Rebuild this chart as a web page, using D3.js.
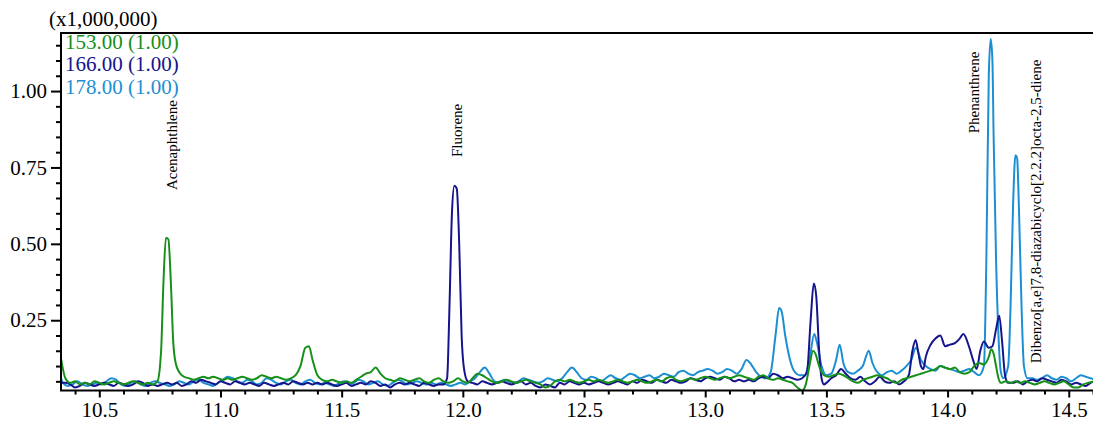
<!DOCTYPE html>
<html>
<head>
<meta charset="utf-8">
<script src="https://cdn.jsdelivr.net/npm/d3@7"></script>
<style>
  html, body { margin: 0; padding: 0; background: #fff; }
  svg { display: block; font-family: "Liberation Serif", "DejaVu Serif", serif; }
</style>
</head>
<body>
<div id="chromatogram"></div>
<script>
// ion chromatograms, [retention time (min), intensity (x1,000,000)]
const ion153 = [
  [10.342,0.125],[10.35,0.09],[10.36,0.06],[10.38,0.045],[10.40,0.05],[10.42,0.04],[10.44,0.045],[10.46,0.04],
  [10.48,0.05],[10.50,0.045],[10.52,0.04],[10.54,0.045],[10.56,0.05],[10.58,0.045],[10.60,0.04],[10.62,0.045],
  [10.64,0.05],[10.66,0.045],[10.68,0.04],[10.70,0.045],[10.72,0.04],[10.74,0.05],[10.755,0.15],[10.765,0.38],
  [10.775,0.52],[10.785,0.515],[10.795,0.38],[10.805,0.18],[10.815,0.11],[10.83,0.08],[10.85,0.065],[10.87,0.06],
  [10.89,0.055],[10.91,0.06],[10.93,0.065],[10.95,0.06],[10.97,0.065],[10.99,0.06],[11.01,0.055],[11.03,0.06],
  [11.05,0.055],[11.07,0.06],[11.09,0.065],[11.11,0.06],[11.13,0.055],[11.15,0.06],[11.17,0.07],[11.19,0.065],
  [11.21,0.06],[11.23,0.065],[11.25,0.06],[11.27,0.055],[11.29,0.06],[11.31,0.07],[11.33,0.1],[11.35,0.16],
  [11.365,0.165],[11.38,0.12],[11.40,0.07],[11.42,0.055],[11.44,0.05],[11.46,0.055],[11.48,0.05],[11.50,0.045],
  [11.52,0.05],[11.54,0.045],[11.56,0.055],[11.58,0.065],[11.60,0.075],[11.62,0.08],[11.64,0.095],[11.66,0.075],
  [11.68,0.06],[11.70,0.055],[11.72,0.05],[11.74,0.06],[11.76,0.055],[11.78,0.05],[11.80,0.055],[11.82,0.06],
  [11.84,0.05],[11.86,0.045],[11.88,0.055],[11.90,0.06],[11.92,0.05],[11.94,0.045],[11.96,0.05],[11.98,0.06],
  [12.00,0.05],[12.02,0.045],[12.04,0.06],[12.06,0.075],[12.08,0.07],[12.10,0.06],[12.12,0.05],[12.14,0.045],
  [12.16,0.05],[12.18,0.055],[12.20,0.05],[12.22,0.045],[12.24,0.05],[12.26,0.055],[12.28,0.05],[12.30,0.045],
  [12.32,0.04],[12.34,0.03],[12.36,0.035],[12.38,0.05],[12.40,0.055],[12.42,0.05],[12.44,0.055],[12.46,0.05],
  [12.48,0.045],[12.50,0.05],[12.52,0.055],[12.54,0.05],[12.56,0.055],[12.58,0.05],[12.60,0.045],[12.62,0.05],
  [12.64,0.055],[12.66,0.05],[12.68,0.045],[12.70,0.05],[12.72,0.055],[12.74,0.05],[12.76,0.045],[12.78,0.05],
  [12.80,0.055],[12.82,0.05],[12.84,0.06],[12.86,0.065],[12.88,0.055],[12.90,0.05],[12.92,0.055],[12.94,0.06],
  [12.96,0.055],[12.98,0.06],[13.00,0.065],[13.02,0.06],[13.04,0.055],[13.06,0.06],[13.08,0.065],[13.10,0.06],
  [13.12,0.065],[13.14,0.07],[13.16,0.065],[13.18,0.06],[13.20,0.055],[13.22,0.065],[13.24,0.07],[13.26,0.06],
  [13.28,0.055],[13.30,0.06],[13.32,0.055],[13.34,0.05],[13.36,0.045],[13.38,0.03],[13.40,0.02],[13.415,0.04],
  [13.43,0.1],[13.445,0.15],[13.455,0.14],[13.47,0.1],[13.49,0.07],[13.51,0.065],[13.53,0.07],[13.55,0.075],
  [13.57,0.07],[13.59,0.06],[13.61,0.05],[13.63,0.045],[13.65,0.055],[13.67,0.06],[13.69,0.065],[13.71,0.07],
  [13.73,0.065],[13.75,0.06],[13.77,0.05],[13.79,0.045],[13.81,0.055],[13.83,0.06],[13.85,0.065],[13.87,0.07],
  [13.89,0.075],[13.91,0.08],[13.93,0.085],[13.95,0.09],[13.97,0.1],[13.99,0.095],[14.01,0.09],[14.03,0.095],
  [14.05,0.08],[14.07,0.075],[14.09,0.08],[14.11,0.1],[14.13,0.11],[14.15,0.105],[14.17,0.13],[14.18,0.155],
  [14.19,0.14],[14.20,0.1],[14.21,0.06],[14.22,0.045],[14.24,0.05],[14.26,0.045],[14.28,0.05],[14.30,0.045],
  [14.32,0.05],[14.34,0.045],[14.36,0.04],[14.38,0.045],[14.40,0.05],[14.42,0.045],[14.44,0.04],[14.46,0.045],
  [14.48,0.05],[14.50,0.04],[14.52,0.03],[14.54,0.03],[14.56,0.04],[14.58,0.045],[14.61,0.05]
];

const ion166 = [
  [10.342,0.045],[10.36,0.045],[10.38,0.04],[10.40,0.03],[10.42,0.035],[10.44,0.045],[10.46,0.04],[10.48,0.035],
  [10.50,0.04],[10.52,0.045],[10.54,0.04],[10.56,0.035],[10.58,0.045],[10.60,0.04],[10.62,0.035],[10.64,0.04],
  [10.66,0.05],[10.68,0.045],[10.70,0.035],[10.72,0.04],[10.74,0.035],[10.76,0.04],[10.78,0.045],[10.80,0.04],
  [10.82,0.045],[10.84,0.035],[10.86,0.04],[10.88,0.05],[10.90,0.045],[10.92,0.055],[10.94,0.05],[10.96,0.045],
  [10.98,0.04],[11.00,0.05],[11.02,0.045],[11.04,0.04],[11.06,0.05],[11.08,0.045],[11.10,0.04],[11.12,0.045],
  [11.14,0.04],[11.16,0.035],[11.18,0.045],[11.20,0.04],[11.22,0.035],[11.24,0.04],[11.26,0.045],[11.28,0.04],
  [11.30,0.05],[11.32,0.045],[11.34,0.04],[11.36,0.045],[11.38,0.04],[11.40,0.045],[11.42,0.04],[11.44,0.045],
  [11.46,0.04],[11.48,0.035],[11.50,0.04],[11.52,0.045],[11.54,0.035],[11.56,0.04],[11.58,0.045],[11.60,0.04],
  [11.62,0.05],[11.64,0.045],[11.66,0.035],[11.68,0.04],[11.70,0.03],[11.72,0.04],[11.74,0.045],[11.76,0.04],
  [11.78,0.045],[11.80,0.04],[11.82,0.035],[11.84,0.045],[11.86,0.04],[11.88,0.035],[11.90,0.04],[11.92,0.04],
  [11.935,0.06],[11.945,0.3],[11.955,0.6],[11.965,0.69],[11.975,0.68],[11.985,0.5],[11.995,0.2],[12.005,0.09],
  [12.02,0.05],[12.04,0.045],[12.06,0.04],[12.08,0.05],[12.10,0.045],[12.12,0.04],[12.14,0.045],[12.16,0.05],
  [12.18,0.045],[12.20,0.04],[12.22,0.045],[12.24,0.05],[12.26,0.04],[12.28,0.045],[12.30,0.035],[12.32,0.03],
  [12.34,0.04],[12.36,0.035],[12.38,0.03],[12.40,0.045],[12.42,0.04],[12.44,0.05],[12.46,0.045],[12.48,0.04],
  [12.50,0.045],[12.52,0.04],[12.54,0.045],[12.56,0.05],[12.58,0.045],[12.60,0.04],[12.62,0.045],[12.64,0.05],
  [12.66,0.045],[12.68,0.04],[12.70,0.05],[12.72,0.045],[12.74,0.055],[12.76,0.05],[12.78,0.045],[12.80,0.055],
  [12.82,0.05],[12.84,0.045],[12.86,0.055],[12.88,0.05],[12.90,0.045],[12.92,0.05],[12.94,0.06],[12.96,0.055],
  [12.98,0.05],[13.00,0.06],[13.02,0.065],[13.04,0.06],[13.06,0.055],[13.08,0.065],[13.10,0.06],[13.12,0.05],
  [13.14,0.055],[13.16,0.05],[13.18,0.055],[13.20,0.05],[13.22,0.06],[13.24,0.065],[13.26,0.06],[13.28,0.075],
  [13.30,0.07],[13.32,0.06],[13.34,0.065],[13.36,0.06],[13.38,0.055],[13.40,0.06],[13.42,0.08],[13.435,0.25],
  [13.448,0.37],[13.458,0.33],[13.47,0.15],[13.48,0.06],[13.49,0.04],[13.50,0.045],[13.52,0.06],[13.54,0.07],
  [13.56,0.09],[13.58,0.075],[13.60,0.06],[13.62,0.055],[13.64,0.065],[13.66,0.05],[13.68,0.04],[13.70,0.05],
  [13.72,0.065],[13.74,0.05],[13.76,0.045],[13.78,0.05],[13.80,0.04],[13.82,0.05],[13.84,0.07],[13.855,0.15],
  [13.868,0.185],[13.88,0.14],[13.89,0.1],[13.90,0.09],[13.91,0.13],[13.93,0.17],[13.95,0.19],[13.97,0.2],
  [13.99,0.165],[14.01,0.17],[14.03,0.175],[14.05,0.19],[14.065,0.205],[14.09,0.16],[14.105,0.12],[14.12,0.09],
  [14.135,0.15],[14.15,0.18],[14.17,0.16],[14.185,0.165],[14.20,0.22],[14.213,0.265],[14.225,0.18],[14.237,0.07],
  [14.25,0.045],[14.27,0.045],[14.29,0.05],[14.31,0.04],[14.33,0.05],[14.35,0.055],[14.37,0.05],[14.39,0.06],
  [14.41,0.055],[14.43,0.05],[14.45,0.045],[14.47,0.055],[14.49,0.05],[14.51,0.04],[14.53,0.045],[14.55,0.04],
  [14.57,0.035],[14.59,0.045],[14.61,0.05]
];

const ion178 = [
  [10.342,0.06],[10.35,0.045],[10.37,0.035],[10.39,0.04],[10.41,0.05],[10.43,0.04],[10.45,0.035],[10.47,0.04],
  [10.49,0.045],[10.51,0.04],[10.53,0.05],[10.55,0.06],[10.57,0.055],[10.59,0.04],[10.61,0.035],[10.63,0.045],
  [10.65,0.05],[10.67,0.04],[10.69,0.035],[10.71,0.045],[10.73,0.05],[10.75,0.045],[10.77,0.04],[10.79,0.035],
  [10.81,0.04],[10.83,0.05],[10.85,0.045],[10.87,0.04],[10.89,0.05],[10.91,0.055],[10.93,0.045],[10.95,0.04],
  [10.97,0.035],[10.99,0.045],[11.01,0.055],[11.03,0.065],[11.05,0.06],[11.07,0.05],[11.09,0.045],[11.11,0.055],
  [11.13,0.05],[11.15,0.04],[11.17,0.045],[11.19,0.06],[11.21,0.055],[11.23,0.045],[11.25,0.04],[11.27,0.05],
  [11.29,0.055],[11.31,0.045],[11.33,0.04],[11.35,0.05],[11.37,0.055],[11.39,0.045],[11.41,0.04],[11.43,0.045],
  [11.45,0.04],[11.47,0.035],[11.49,0.045],[11.51,0.05],[11.53,0.04],[11.55,0.045],[11.57,0.055],[11.59,0.05],
  [11.61,0.04],[11.63,0.045],[11.65,0.05],[11.67,0.04],[11.69,0.035],[11.71,0.045],[11.73,0.055],[11.75,0.05],
  [11.77,0.04],[11.79,0.045],[11.81,0.05],[11.83,0.045],[11.85,0.04],[11.87,0.045],[11.89,0.04],[11.91,0.045],
  [11.93,0.04],[11.95,0.035],[11.97,0.04],[11.99,0.045],[12.01,0.04],[12.03,0.05],[12.05,0.06],[12.07,0.08],
  [12.09,0.095],[12.11,0.075],[12.13,0.05],[12.15,0.045],[12.17,0.055],[12.19,0.05],[12.21,0.045],[12.23,0.05],
  [12.25,0.06],[12.27,0.055],[12.29,0.05],[12.31,0.045],[12.33,0.05],[12.35,0.06],[12.37,0.055],[12.39,0.05],
  [12.41,0.06],[12.43,0.08],[12.45,0.095],[12.47,0.08],[12.49,0.06],[12.51,0.055],[12.53,0.065],[12.55,0.06],
  [12.57,0.05],[12.59,0.06],[12.61,0.07],[12.63,0.06],[12.65,0.055],[12.67,0.065],[12.69,0.075],[12.71,0.07],
  [12.73,0.06],[12.75,0.065],[12.77,0.07],[12.79,0.06],[12.81,0.065],[12.83,0.075],[12.85,0.07],[12.87,0.065],
  [12.89,0.08],[12.91,0.085],[12.93,0.075],[12.95,0.07],[12.97,0.08],[12.99,0.085],[13.01,0.09],[13.03,0.085],
  [13.05,0.075],[13.07,0.08],[13.09,0.09],[13.11,0.085],[13.13,0.075],[13.15,0.09],[13.17,0.12],[13.19,0.105],
  [13.21,0.08],[13.23,0.065],[13.25,0.06],[13.27,0.08],[13.29,0.2],[13.305,0.29],[13.315,0.28],[13.33,0.2],
  [13.35,0.12],[13.37,0.08],[13.39,0.07],[13.41,0.07],[13.43,0.12],[13.45,0.205],[13.46,0.18],[13.48,0.1],
  [13.50,0.07],[13.52,0.075],[13.54,0.12],[13.555,0.17],[13.57,0.11],[13.59,0.08],[13.61,0.075],[13.63,0.085],
  [13.65,0.1],[13.675,0.15],[13.69,0.11],[13.71,0.08],[13.73,0.07],[13.75,0.08],[13.77,0.085],[13.79,0.075],
  [13.81,0.085],[13.83,0.1],[13.85,0.12],[13.87,0.16],[13.89,0.12],[13.91,0.1],[13.93,0.09],[13.95,0.085],
  [13.97,0.1],[13.99,0.095],[14.01,0.09],[14.03,0.085],[14.05,0.08],[14.07,0.085],[14.09,0.09],[14.11,0.08],
  [14.13,0.07],[14.15,0.1],[14.16,0.45],[14.17,1.05],[14.178,1.17],[14.185,1.1],[14.19,0.85],[14.20,0.45],
  [14.21,0.2],[14.22,0.08],[14.23,0.06],[14.25,0.1],[14.26,0.3],[14.27,0.62],[14.28,0.79],[14.287,0.78],
  [14.295,0.6],[14.305,0.3],[14.315,0.1],[14.33,0.06],[14.35,0.06],[14.37,0.055],[14.39,0.06],[14.41,0.07],
  [14.43,0.06],[14.45,0.055],[14.47,0.065],[14.49,0.06],[14.51,0.05],[14.53,0.06],[14.55,0.07],[14.57,0.065],
  [14.59,0.06],[14.61,0.055]
];

const legendLabels = ["153.00 (1.00)", "166.00 (1.00)", "178.00 (1.00)"];
const seriesColors = ["#17901a", "#14148c", "#1c8fd2"];

// peak names, with the retention time / intensity where each label starts
const peakNames = ["Acenaphthlene", "Fluorene", "Phenanthrene", "Dibenzo[a,e]7,8-diazabicyclo[2.2.2]octa-2,5-diene"];
const peakLabelRt = [10.80, 11.975, 14.108, 14.364];
const peakLabelValue = [0.676, 0.784, 0.862, 0.109];

const xMajorTicks = [10.5, 11.0, 11.5, 12.0, 12.5, 13.0, 13.5, 14.0, 14.5];
const yMajorTicks = [0.25, 0.50, 0.75, 1.00];

const width = 1093, height = 421;
const plotLeft = 61, plotTop = 33, plotRight = 1093, plotBottom = 390.5;

const x = d3.scaleLinear().domain([10.342, 14.6]).range([plotLeft, plotRight]);
const y = d3.scaleLinear().domain([0.02, 1.19]).range([plotBottom, plotTop]);

const xMinor = d3.range(104, 147).map(d => d / 10).filter(d => !xMajorTicks.some(t => Math.abs(t - d) < 1e-6));
const yMinor = d3.range(1, 24).map(d => d * 0.05).filter(d => !yMajorTicks.some(t => Math.abs(t - d) < 1e-6));

const svg = d3.select("#chromatogram").append("svg")
    .attr("width", width)
    .attr("height", height);

svg.append("defs").append("clipPath").attr("id", "plotClip")
    .append("rect")
    .attr("x", plotLeft).attr("y", plotTop)
    .attr("width", plotRight - plotLeft).attr("height", plotBottom - plotTop);

// traces
const line = d3.line()
    .x(d => x(d[0]))
    .y(d => y(d[1]))
    .curve(d3.curveMonotoneX);

const traces = [ion178, ion166, ion153];
const traceColors = [seriesColors[2], seriesColors[1], seriesColors[0]];
const plot = svg.append("g").attr("clip-path", "url(#plotClip)");
traces.forEach((trace, i) => {
    plot.append("path")
        .datum(trace)
        .attr("fill", "none")
        .attr("stroke", traceColors[i])
        .attr("stroke-width", 2)
        .attr("stroke-linejoin", "round")
        .attr("d", line);
});

// axes
const xAxisMajor = d3.axisBottom(x).tickValues(xMajorTicks).tickSize(7).tickPadding(5).tickFormat(d3.format(".1f"));
const xAxisMinor = d3.axisBottom(x).tickValues(xMinor).tickSize(4).tickFormat("");
const yAxisMajor = d3.axisLeft(y).tickValues(yMajorTicks).tickSize(10).tickPadding(4).tickFormat(d3.format(".2f"));
const yAxisMinor = d3.axisLeft(y).tickValues(yMinor).tickSize(5).tickFormat("");

[xAxisMinor, xAxisMajor].forEach(ax => {
    svg.append("g")
        .attr("transform", `translate(0,${plotBottom})`)
        .call(ax)
        .call(g => g.select(".domain").remove())
        .call(g => g.selectAll("line").attr("stroke", "#000").attr("stroke-width", 2))
        .call(g => g.selectAll("text").attr("font-size", 21).attr("font-family", "Liberation Serif").attr("fill", "#000"));
});
[yAxisMinor, yAxisMajor].forEach(ax => {
    svg.append("g")
        .attr("transform", `translate(${plotLeft},0)`)
        .call(ax)
        .call(g => g.select(".domain").remove())
        .call(g => g.selectAll("line").attr("stroke", "#000").attr("stroke-width", 2))
        .call(g => g.selectAll("text").attr("font-size", 21).attr("font-family", "Liberation Serif").attr("fill", "#000"));
});

// frame
svg.append("path")
    .attr("d", `M${plotRight},${plotTop}H${plotLeft}V${plotBottom}H${plotRight}`)
    .attr("fill", "none")
    .attr("stroke", "#000")
    .attr("stroke-width", 2);

svg.append("text")
    .attr("x", 49).attr("y", 26)
    .attr("font-size", 21)
    .text("(x1,000,000)");

// legend
legendLabels.forEach((label, i) => {
    svg.append("text")
        .attr("x", 65)
        .attr("y", 48.5 + i * 22.5)
        .attr("font-size", 21)
        .attr("fill", seriesColors[i])
        .text(label);
});

// peak names
peakNames.forEach((name, i) => {
    const px = x(peakLabelRt[i]), py = y(peakLabelValue[i]);
    svg.append("text")
        .attr("transform", `translate(${px},${py}) rotate(-90)`)
        .attr("dy", "0.35em")
        .attr("font-size", 15)
        .attr("fill", "#000")
        .text(name);
});
</script>
</body>
</html>
